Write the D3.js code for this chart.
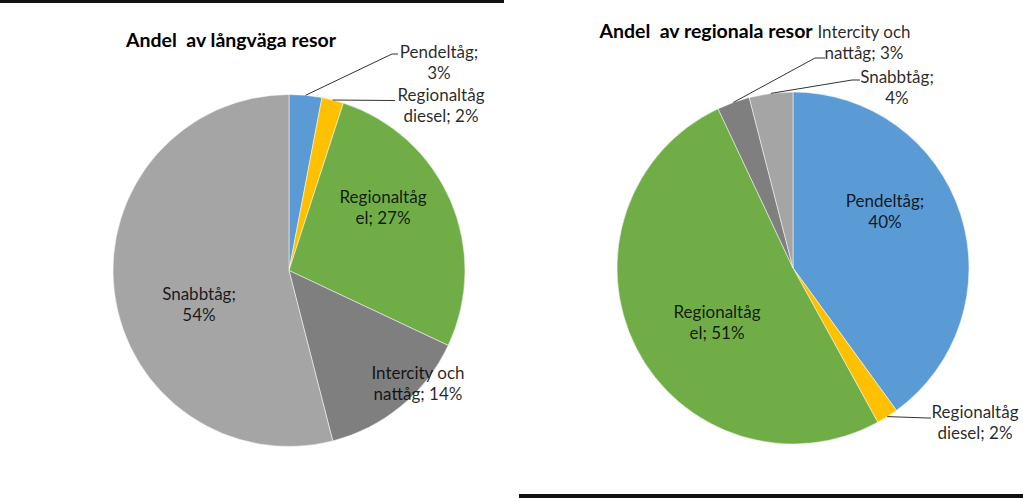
<!DOCTYPE html>
<html>
<head>
<meta charset="utf-8">
<script src="https://cdn.jsdelivr.net/npm/d3@7"></script>
<style>
  html, body { margin: 0; padding: 0; background: #fff; }
  svg { display: block; font-family: Lato, "Open Sans", sans-serif; }
</style>
</head>
<body>
<div id="chart"></div>
<script>
// categories and values
var categories = ["Pendeltåg", "Regionaltåg diesel", "Regionaltåg el", "Intercity och nattåg", "Snabbtåg"];
var longValues = [3, 2, 27, 14, 54];
var regionalValues = [40, 2, 51, 3, 4];

// how each label wraps: first line, then start of second line + value
var labelHeads = ["Pendeltåg;", "Regionaltåg", "Regionaltåg", "Intercity och", "Snabbtåg;"];
var labelTails = ["", "diesel; ", "el; ", "nattåg; ", ""];

var titles = ["Andel  av långväga resor", "Andel  av regionala resor"];

var colors = ["#5B9BD5", "#FFC000", "#70AD47", "#7F7F7F", "#A5A5A5"];

var width = 1023, height = 498;
var radius = 176;

var svg = d3.select("#chart")
    .append("svg")
    .attr("width", width)
    .attr("height", height);

// frame edges left over from the cropped charts
svg.append("rect").attr("x", 0).attr("y", 0).attr("width", 504).attr("height", 3).attr("fill", "#111");
svg.append("rect").attr("x", 519).attr("y", 494).attr("width", 504).attr("height", 4).attr("fill", "#111");

// label layout per chart, offsets from the pie centre
// pos = [x of text centre, baseline of first line], leader = [elbow, end] or null
var charts = [
  {
    values: longValues, title: titles[0], cx: 289, cy: 270.5, titleX: 231, titleY: 47,
    pos: [[150, -212.5], [152, -169.5], [94, -67.5], [129, 108.5], [-90, 29.5]],
    leader: [[[103, -216.5], [109, -216.5]], [[104, -170], [106, -170]], null, null, null]
  },
  {
    values: regionalValues, title: titles[1], cx: 793, cy: 268, titleX: 706, titleY: 38,
    pos: [[92, -61], [182, 150], [-76, 50], [71, -230], [104, -185]],
    leader: [null, [[135, 150], [138, 150]], null, [[22, -210], [32, -210]], [[59, -188], [67, -188]]]
  }
];

var pie = d3.pie().sort(null).value(function(d) { return d; });
var arc = d3.arc().innerRadius(0).outerRadius(radius);

charts.forEach(function(c) {
    svg.append("text")
        .attr("x", c.titleX)
        .attr("y", c.titleY)
        .attr("text-anchor", "middle")
        .attr("font-weight", "bold")
        .attr("font-size", 19.5)
        .attr("fill", "#000")
        .style("white-space", "pre")
        .text(c.title);

    var g = svg.append("g")
        .attr("transform", "translate(" + c.cx + "," + c.cy + ")");

    var arcs = pie(c.values);

    g.selectAll("path.slice")
      .data(arcs)
      .enter()
      .append("path")
      .attr("class", "slice")
      .attr("d", arc)
      .attr("fill", function(d, i) { return colors[i]; })
      .attr("stroke", "#fff")
      .attr("stroke-width", 0.5);

    // leader lines from slice edge to label
    arcs.forEach(function(d, i) {
        var l = c.leader[i];
        if (!l) return;
        var start = d3.pointRadial((d.startAngle + d.endAngle) / 2, radius);
        g.append("path")
          .datum([start, l[0], l[1]])
          .attr("fill", "none")
          .attr("stroke", "#333")
          .attr("stroke-width", 1)
          .attr("d", d3.line());
    });

    var labels = g.selectAll("text.lbl")
      .data(arcs)
      .enter()
      .append("text")
      .attr("class", "lbl")
      .attr("text-anchor", "middle")
      .attr("font-size", 17)
      .attr("fill", "#000")
      .attr("fill-opacity", 0.85);

    labels.append("tspan")
      .attr("x", function(d, i) { return c.pos[i][0]; })
      .attr("y", function(d, i) { return c.pos[i][1]; })
      .text(function(d, i) { return labelHeads[i]; });

    labels.append("tspan")
      .attr("x", function(d, i) { return c.pos[i][0]; })
      .attr("y", function(d, i) { return c.pos[i][1] + 20.5; })
      .text(function(d, i) { return labelTails[i] + d.data + "%"; });
});
</script>
</body>
</html>
